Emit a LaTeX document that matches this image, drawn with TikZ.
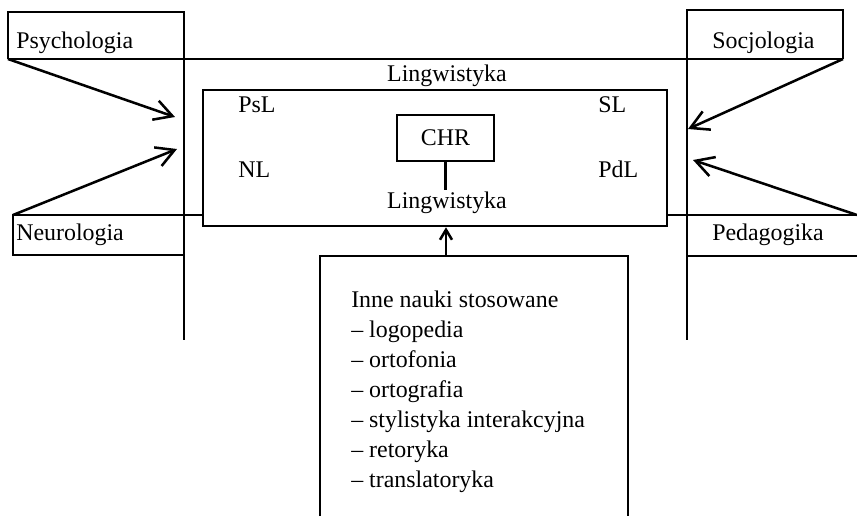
\documentclass[tikz,border=0pt]{standalone}
\usepackage{fontspec}
\setmainfont{Liberation Serif}
\usetikzlibrary{arrows.meta}

\begin{document}
\begin{tikzpicture}[x=0.025cm, y=-0.025cm, line width=1.8pt,
  every node/.style={font=\fontsize{17}{21.3}\selectfont, inner sep=0pt},
  bigarrow/.style={-{Straight Barb[length=4.5mm,width=5mm]}},
  smallarrow/.style={-{Straight Barb[length=2.5mm,width=3mm]}}]

\useasboundingbox (0,0) rectangle (857,516);

% Linguistics box
\node[draw, minimum width=11.6cm, minimum height=3.4cm] (L) at (435,158) {};
\node[anchor=base] (L1) at (447,81) {Lingwistyka};
\node[anchor=base] (L2) at (447,208) {Lingwistyka};
\node[draw, minimum width=2.425cm, minimum height=1.15cm] (CHR) at (445.5,138) {CHR};
\draw (CHR.south) -- (CHR.south |- L2.north);

% Branches
\node[anchor=base west] (PsL) at (237,112) {PsL};
\node[anchor=base west] (NL)  at (237,177) {NL};
\node[anchor=base west] (SL)  at (597,112) {SL};
\node[anchor=base west] (PdL) at (597,177) {PdL};

% Psychologia
\node[anchor=base west] (P) at (15,48) {Psychologia};
\coordinate (Pc) at (8,59);
\coordinate (Pt) at (175,117);
\draw (Pc) -- (8,12) -- (184,12) -- (184,340);

% Socjologia
\node[anchor=base west] (S) at (711,48) {Socjologia};
\coordinate (Sc) at (843,59);
\coordinate (St) at (688,129);
\draw (Sc) -- (843,10) -- (687,10) -- (687,340);
\draw (Pc) -- (Sc);

% Neurologia
\node[anchor=base west] (N) at (15,240) {Neurologia};
\coordinate (Nc) at (13,215);
\coordinate (Nt) at (177,149);
\draw (L.west |- Nc) -- (Nc) -- (13,255) -- (184,255);

% Pedagogika
\node[anchor=base west] (D) at (711,240) {Pedagogika};
\coordinate (Dc) at (857,215);
\coordinate (Dt) at (693,160);
\draw (L.east |- Dc) -- (Dc);
\draw (687,256) -- (857,256);

\draw[bigarrow] (Pc) -- (Pt);
\draw[bigarrow] (Nc) -- (Nt);
\draw[bigarrow] (Sc) -- (St);
\draw[bigarrow] (Dc) -- (Dt);

% Applied sciences
\node[anchor=base west, align=left] (I) at (350,487) {Inne nauki stosowane\\
  -- logopedia\\ -- ortofonia\\ -- ortografia\\ -- stylistyka interakcyjna\\
  -- retoryka\\ -- translatoryka};
\coordinate (Ic) at (446,256);
\draw (320,516) -- (320,256) -- (628,256) -- (628,516);
\draw[smallarrow] (Ic) -- (Ic |- L.south);

\end{tikzpicture}
\end{document}
